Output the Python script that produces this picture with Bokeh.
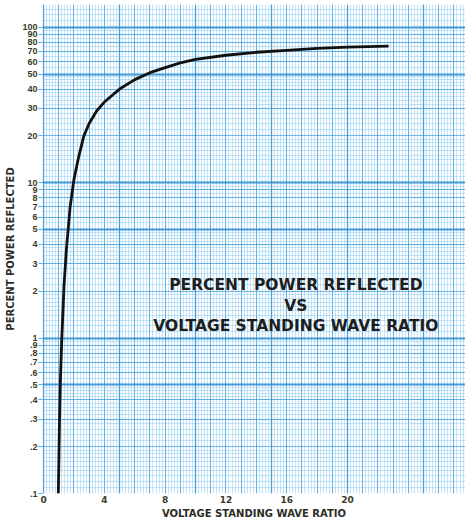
import numpy as np
from bokeh.plotting import figure
from bokeh.models import FixedTicker, Grid, Label, Range1d
from bokeh.embed import file_html
from bokeh.resources import INLINE

# ---- data ----
vswr = [0.97, 1.05, 1.1, 1.2, 1.35, 1.5, 1.75, 2.0, 2.3, 2.65, 3.0, 3.5, 4.0,
        5.0, 6.0, 7.0, 8.0, 9.0, 10.0, 12.0, 14.0, 16.0, 18.0, 20.0, 22.7]
percent_reflected = [0.1, 0.3, 0.5, 1.0, 2.2, 3.7, 7.0, 10.5, 14.5, 20.0, 24.0, 29.0, 33.0,
                     40.0, 46.0, 51.0, 55.0, 59.0, 62.0, 66.0, 69.0, 71.0, 73.0, 74.5, 75.5]

x_tick_values = [0, 4, 8, 12, 16, 20]
y_tick_values = [0.1, 0.2, 0.3, 0.4, 0.5, 0.6, 0.7, 0.8, 0.9,
                 1, 2, 3, 4, 5, 6, 7, 8, 9,
                 10, 20, 30, 40, 50, 60, 70, 80, 90, 100]
y_tick_labels = [".1", ".2", ".3", ".4", ".5", ".6", ".7", ".8", ".9",
                 "1", "2", "3", "4", "5", "6", "7", "8", "9",
                 "10", "20", "30", "40", "50", "60", "70", "80", "90", "100"]

title_lines = ["PERCENT POWER REFLECTED", "VS", "VOLTAGE STANDING WAVE RATIO"]

# ---- figure ----
p = figure(width=465, height=521, x_range=Range1d(-0.07, 27.76), y_range=Range1d(0.1, 140),
           y_axis_type="log", output_backend="svg", toolbar_location=None,
           min_border_left=42, min_border_right=0, min_border_top=4, min_border_bottom=25)
p.outline_line_color = None
p.background_fill_color = "#fbfdff"
p.border_fill_color = "#ffffff"

# graph-paper grid (linear x)
x_major = [float(v) for v in range(0, 29)]
x_minor = [round(v, 2) for v in np.arange(0, 28.4, 0.2)]
p.xgrid.ticker = FixedTicker(ticks=x_major, minor_ticks=x_minor)
p.xgrid.grid_line_color = "#3f9bd8"
p.xgrid.grid_line_alpha = 0.7
p.xgrid.minor_grid_line_color = "#8ccaee"
p.xgrid.minor_grid_line_alpha = 0.5

# graph-paper grid (log y)
y_major, y_minor = [], []
for d in [0.1, 1, 10, 100]:
    y_major += [d * k for k in range(1, 10)]
    y_minor += [d * (1 + 0.1 * k) for k in range(1, 10)]
    y_minor += [d * (2 + 0.2 * k) for k in range(1, 15)]
    y_minor += [d * (5 + 0.5 * k) for k in range(1, 10)]
p.ygrid.ticker = FixedTicker(ticks=y_major, minor_ticks=y_minor)
p.ygrid.grid_line_color = "#3f9bd8"
p.ygrid.grid_line_alpha = 0.7
p.ygrid.minor_grid_line_color = "#8ccaee"
p.ygrid.minor_grid_line_alpha = 0.5

heavy_y = Grid(dimension=1, ticker=FixedTicker(ticks=[0.1, 0.5, 1, 5, 10, 50, 100]),
               grid_line_color="#2b8ad0", grid_line_width=2.5, grid_line_alpha=0.6)
p.add_layout(heavy_y, "center")
heavy_x = Grid(dimension=0, ticker=FixedTicker(ticks=[0, 5, 10, 15, 20, 25]),
               grid_line_color="#2b8ad0", grid_line_width=1.5, grid_line_alpha=0.45)
p.add_layout(heavy_x, "center")

# curve
p.line(vswr, percent_reflected, line_color="#111111", line_width=2.8)

# axes
ax = p.xaxis[0]
ax.ticker = FixedTicker(ticks=x_tick_values)
ax.axis_label = "VOLTAGE STANDING WAVE RATIO"
ax.axis_line_color = None
ax.major_tick_line_color = None
ax.major_tick_out = 0
ax.major_tick_in = 0
ax.minor_tick_line_color = None
ax.minor_tick_out = 0
ax.major_label_standoff = 2
ax.axis_label_standoff = 2
ax.major_label_text_font = "DejaVu Sans"
ax.major_label_text_font_style = "bold"
ax.major_label_text_font_size = "9px"
ax.major_label_text_color = "#3a3a28"
ax.axis_label_text_font = "DejaVu Sans"
ax.axis_label_text_font_style = "bold"
ax.axis_label_text_font_size = "10px"
ax.axis_label_text_color = "#2c2c24"

ay = p.yaxis[0]
ay.ticker = FixedTicker(ticks=y_tick_values)
ay.major_label_overrides = dict(zip(y_tick_values, y_tick_labels))
ay.axis_label = "PERCENT POWER REFLECTED"
ay.axis_line_color = None
ay.major_tick_line_color = "#5aaee0"
ay.major_tick_out = 4
ay.major_tick_in = 0
ay.minor_tick_line_color = None
ay.major_label_standoff = 1
ay.axis_label_standoff = 3
ay.major_label_text_font = "Liberation Sans"
ay.major_label_text_font_style = "bold"
ay.major_label_text_font_size = "9px"
ay.major_label_text_color = "#3a3a28"
ay.axis_label_text_font = "DejaVu Sans"
ay.axis_label_text_font_style = "bold"
ay.axis_label_text_font_size = "10px"
ay.axis_label_text_color = "#2c2c24"

# in-chart title
title_y = [2.2, 1.62, 1.19]
for txt, yy in zip(title_lines, title_y):
    p.add_layout(Label(x=16.6, y=yy, text=txt, text_align="center", text_baseline="middle",
                       text_font="DejaVu Sans", text_font_style="bold",
                       text_font_size="15.5px", text_color="#1e1e1e"))

open("out.html", "w").write(file_html(p, INLINE))
